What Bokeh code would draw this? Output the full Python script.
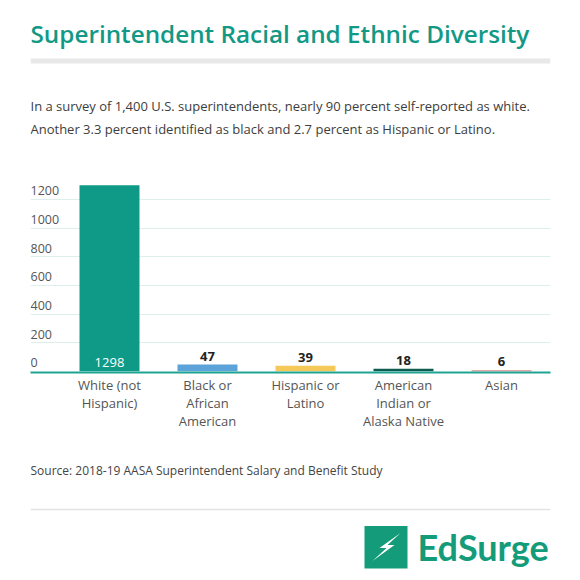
from bokeh.plotting import figure
from bokeh.layouts import column
from bokeh.models import Range1d, FixedTicker, ColumnDataSource
from bokeh.core.properties import value
from bokeh.embed import file_html
from bokeh.resources import INLINE

# ---- data ----
categories = ["White (not\nHispanic)", "Black or\nAfrican\nAmerican", "Hispanic or\nLatino",
              "American\nIndian or\nAlaska Native", "Asian"]
values = [1298, 47, 39, 18, 6]
bar_colors = ["#0e9a87", "#5ba3d9", "#f5c85a", "#0d5c4f", "#c0504d"]
y_ticks = [0, 200, 400, 600, 800, 1000, 1200]

title_text = "Superintendent Racial and Ethnic Diversity"
subtitle_lines = ["In a survey of 1,400 U.S. superintendents, nearly 90 percent self-reported as white.",
                  "Another 3.3 percent identified as black and 2.7 percent as Hispanic or Latino."]
source_text = "Source: 2018-19 AASA Superintendent Salary and Benefit Study"

TEAL = "#129985"
FONT = "Open Sans"
W = 580
ML, MR = 30, 30


def blank(height):
    f = figure(width=W, height=height, x_range=Range1d(ML, W - MR), y_range=Range1d(height, 0),
               output_backend="svg", toolbar_location=None,
               x_axis_location=None, y_axis_location=None,
               min_border_left=ML, min_border_right=MR, min_border_top=0, min_border_bottom=0)
    f.grid.visible = False
    f.outline_line_color = None
    return f


# ---- header ----
H1 = 150
head = blank(H1)
head.text(x=[30], y=[33], text=[title_text], text_font=value("Open Sans SemiBold"),
          text_font_size="24.3px", text_color=TEAL, text_baseline="middle", text_align="left")
head.quad(left=[30], right=[550], top=[58], bottom=[63], fill_color="#e8e8e8", line_color=None)
head.text(x=[30, 30], y=[105.5, 128], text=subtitle_lines, text_font=value(FONT),
          text_font_size="13px", text_color="#3d3d3d", text_baseline="middle", text_align="left")

# ---- chart ----
x_lo, x_hi = -0.806, 4.5
p = figure(width=W, height=300, x_range=Range1d(x_lo, x_hi), y_range=Range1d(-8, 1331.5),
           output_backend="svg", toolbar_location=None,
           min_border_left=ML, min_border_right=MR, min_border_top=30, min_border_bottom=78)
p.outline_line_color = None
p.yaxis.visible = False
p.xgrid.visible = False
p.ygrid.ticker = FixedTicker(ticks=y_ticks[1:])
p.ygrid.grid_line_color = "#dcefed"
p.ygrid.grid_line_width = 1

xs = list(range(len(categories)))
src = ColumnDataSource(dict(x=xs, top=values, color=bar_colors))
p.vbar(x="x", top="top", bottom=0, width=0.612, fill_color="color", line_color=None, source=src)

xa = p.xaxis[0]
xa.ticker = FixedTicker(ticks=xs)
xa.major_label_overrides = {i: c for i, c in zip(xs, categories)}
xa.axis_line_color = "#1fa393"
xa.axis_line_width = 2
xa.major_tick_line_color = None
xa.minor_tick_line_color = None
xa.major_label_standoff = -3
xa.major_label_text_font = FONT
xa.major_label_text_font_size = "13px"
xa.major_label_text_color = "#555555"
xa.major_label_text_line_height = 1.0

# y tick labels sitting above grid lines
p.text(x=[x_lo] * len(y_ticks), y=y_ticks, text=[str(t) for t in y_ticks],
       text_font=value(FONT), text_font_size="12.5px", text_color="#555555",
       text_baseline="middle", text_align="left", y_offset=-8.5)

# value labels
p.text(x=xs[:1], y=[0], text=[str(values[0])], text_font=value(FONT), text_font_size="13px",
       text_color="white", text_baseline="middle", text_align="center", y_offset=-8.5)
p.text(x=xs[1:], y=values[1:], text=[str(v) for v in values[1:]], text_font=value(FONT),
       text_font_size="13px", text_color="#222222", text_baseline="middle",
       text_align="center", y_offset=-8.5, text_font_style="bold")

# ---- footer ----
H3 = 130
foot = blank(H3)
foot.text(x=[30], y=[20], text=[source_text], text_font=value(FONT), text_font_size="12px",
          text_color="#444444", text_baseline="middle", text_align="left")
foot.segment(x0=[30], x1=[550], y0=[59], y1=[59], line_color="#e3e3e3", line_width=1.5)
LOGO = "#149c7a"
foot.quad(left=[364], right=[407], top=[75.5], bottom=[118], fill_color=LOGO, line_color=None)
bx = [364 + v for v in [36, 15, 22, 8, 30, 23]]
by = [75.5 + v for v in [7, 22, 22, 35, 19, 19]]
foot.patch(x=bx, y=by, fill_color="white", line_color=None)
foot.text(x=[417], y=[96.7], text=["EdSurge"], text_font=value("Lato"), text_font_size="36px",
          text_font_style="bold", text_color=LOGO, text_baseline="middle", text_align="left")

layout = column(head, p, foot, spacing=0)
open("out.html", "w").write(file_html(layout, INLINE))
